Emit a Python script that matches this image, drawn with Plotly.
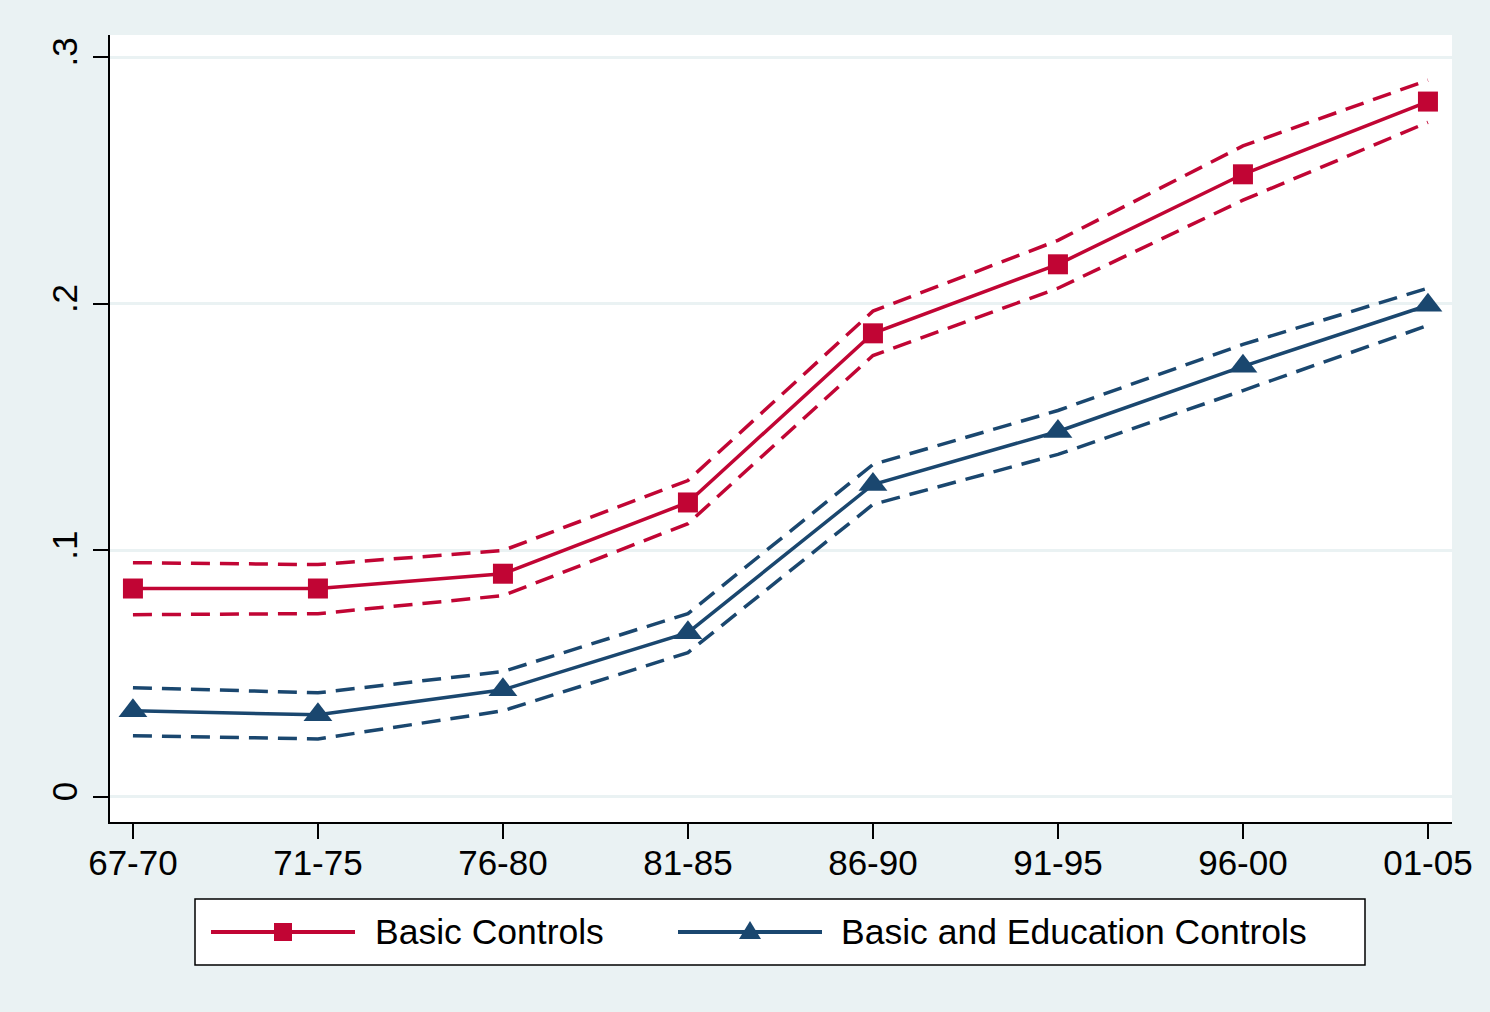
import plotly.graph_objects as go

# periods on the x axis
periods = ["67-70", "71-75", "76-80", "81-85", "86-90", "91-95", "96-00", "01-05"]

# Basic Controls: point estimate and 95% band
basic = [0.0845, 0.0845, 0.0905, 0.1194, 0.1880, 0.2160, 0.2525, 0.2820]
basic_hi = [0.0950, 0.0942, 0.0999, 0.1283, 0.1970, 0.2257, 0.2640, 0.2907]
basic_lo = [0.0739, 0.0743, 0.0816, 0.1108, 0.1790, 0.2063, 0.2420, 0.2736]

# Basic and Education Controls
educ = [0.0349, 0.0333, 0.0434, 0.0666, 0.1267, 0.1482, 0.1746, 0.1994]
educ_hi = [0.0443, 0.0422, 0.0508, 0.0743, 0.1348, 0.1567, 0.1835, 0.2063]
educ_lo = [0.0248, 0.0235, 0.0349, 0.0585, 0.1186, 0.1389, 0.1648, 0.1912]

y_ticks = [0, 0.1, 0.2, 0.3]
y_tick_text = ["0", ".1", ".2", ".3"]

RED = '#C10534'
NAVY = '#1A476F'
BG = '#EAF2F3'
FONT = 'Liberation Sans, Arial, sans-serif'

W, H = 1490, 1012
ML, MR, MT, MB = 110, 38, 35, 190
PW, PH = W - ML - MR, H - MT - MB


def px_x(p):
    # page pixel -> paper x
    return (p - ML) / PW


def px_y(p):
    # page pixel -> paper y
    return (H - MB - p) / PH


xs = list(range(len(periods)))

fig = go.Figure()

series = [
    ('Basic Controls', basic, basic_hi, basic_lo, RED, 'square', 20),
    ('Basic and Education Controls', educ, educ_hi, educ_lo, NAVY, 'triangle-up', 25),
]

for name, mid, hi, lo, color, symbol, msize in series:
    # confidence bands, dashed
    for band in (hi, lo):
        fig.add_trace(go.Scatter(
            x=xs, y=band, mode='lines',
            line=dict(color=color, width=3.5, dash='19px,10px'),
            showlegend=False, hoverinfo='skip'
        ))
    fig.add_trace(go.Scatter(
        x=xs, y=mid, mode='lines+markers', name=name,
        line=dict(color=color, width=3.5),
        marker=dict(color=color, symbol=symbol, size=msize),
        showlegend=False,
    ))

# === Stata-style legend box (drawn by hand, long line samples) ===
shapes = [dict(type='rect', xref='paper', yref='paper',
               x0=px_x(195), x1=px_x(1365), y0=px_y(965), y1=px_y(899),
               line=dict(color='black', width=1.5), fillcolor='white', layer='below')]
annotations = []
cy = 932
entries = [(211, 373, series[0]), (678, 839, series[1])]
for lx, tx, (name, _, _, _, color, symbol, _) in entries:
    shapes.append(dict(type='line', xref='paper', yref='paper',
                       x0=px_x(lx), x1=px_x(lx + 144), y0=px_y(cy), y1=px_y(cy),
                       line=dict(color=color, width=4)))
    mx = lx + 72
    if symbol == 'square':
        shapes.append(dict(type='rect', xref='paper', yref='paper',
                           x0=px_x(mx - 9), x1=px_x(mx + 9), y0=px_y(cy + 9), y1=px_y(cy - 9),
                           line=dict(width=0), fillcolor=color))
    else:
        path = 'M {} {} L {} {} L {} {} Z'.format(
            px_x(mx - 11), px_y(cy + 7), px_x(mx + 11), px_y(cy + 7), px_x(mx), px_y(cy - 11))
        shapes.append(dict(type='path', xref='paper', yref='paper', path=path,
                           line=dict(width=0), fillcolor=color))
    annotations.append(dict(text=name, xref='paper', yref='paper',
                            x=px_x(tx), y=px_y(cy), xanchor='left', yanchor='middle',
                            showarrow=False, font=dict(size=35.5, color='black')))

fig.update_layout(
    width=W,
    height=H,
    margin=dict(l=ML, r=MR, t=MT, b=MB),
    paper_bgcolor=BG,
    plot_bgcolor='white',
    font=dict(family=FONT, size=35, color='black'),
    showlegend=False,
    shapes=shapes,
    annotations=annotations,
)

fig.update_xaxes(
    range=[-0.124, 7.13],
    tickvals=xs,
    ticktext=periods,
    ticklabelstandoff=-6,
    showgrid=False,
    zeroline=False,
    showline=True,
    linecolor='black',
    linewidth=1.5,
    ticks='outside',
    ticklen=15,
    tickwidth=1.5,
    tickcolor='black',
    tickfont=dict(size=35),
)

fig.update_yaxes(
    range=[-0.0102, 0.309],
    tickvals=y_ticks,
    ticktext=y_tick_text,
    tickangle=-90,
    ticklabelstandoff=2,
    showgrid=True,
    gridcolor=BG,
    gridwidth=3,
    zeroline=False,
    showline=True,
    linecolor='black',
    linewidth=1.5,
    ticks='outside',
    ticklen=15,
    tickwidth=1.5,
    tickcolor='black',
    tickfont=dict(size=35),
)

fig.write_html("out.html", config={'displayModeBar': False},
               post_script="document.body.style.margin='0';")
